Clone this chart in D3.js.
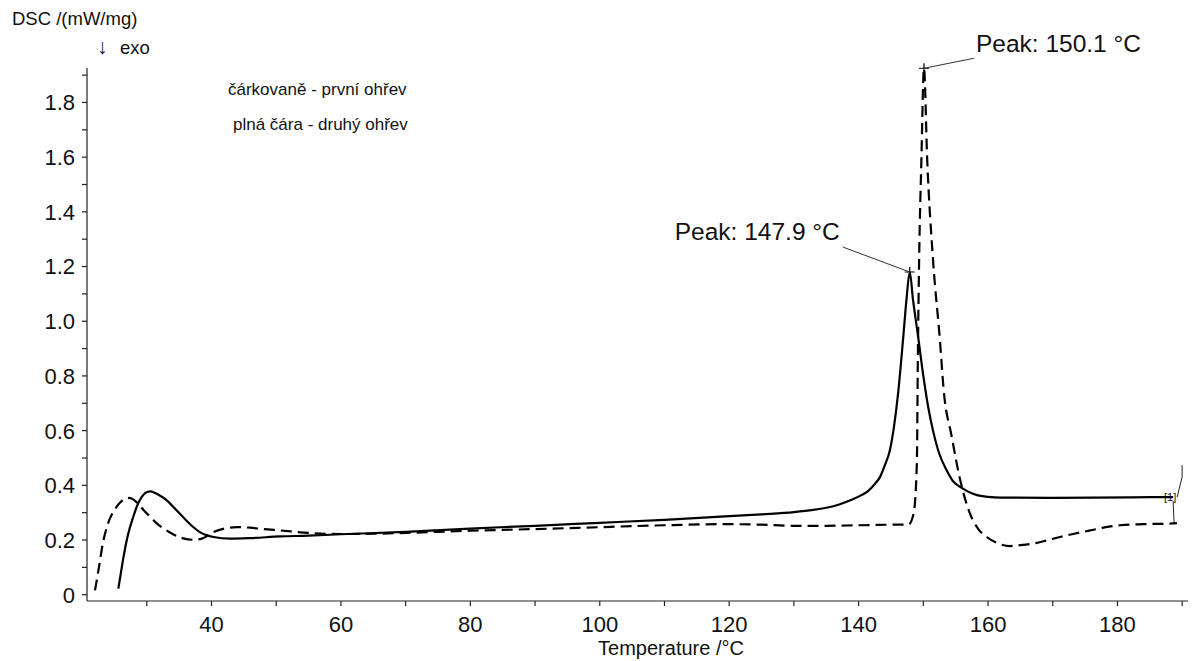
<!DOCTYPE html>
<html>
<head>
<meta charset="utf-8">
<script src="https://cdn.jsdelivr.net/npm/d3@7/dist/d3.min.js"></script>
<style>
  html, body { margin: 0; padding: 0; background: #fff; }
  svg { display: block; }
  text { font-family: "Liberation Sans", Arial, sans-serif; fill: #111; }
</style>
</head>
<body>
<svg id="chart" width="1192" height="661"></svg>
<script>
// First heating (dashed): temperature °C and DSC signal mW/mg
const firstHeatT = [22.0, 22.6, 23.2, 24.0, 25.0, 26.0, 26.9, 27.8, 28.4, 29.5, 30.5, 31.5, 32.6, 34.0, 35.5, 37.2, 38.5, 40.3, 42.0, 43.9, 46.0, 48.0, 50.6, 55, 60, 65, 70, 80, 90, 100, 110, 120, 125, 130, 135, 140, 145, 147.7, 148.5, 149.0, 149.15, 149.35, 149.7, 150.1, 150.6, 151.5, 152.6, 153.1, 154.4, 155.7, 157.2, 158.5, 159.8, 161.5, 163.4, 165, 167, 169, 171.1, 173.5, 175.8, 178, 180.4, 184, 188.1, 189.2];
const firstHeatDSC = [0.016, 0.10, 0.187, 0.26, 0.31, 0.34, 0.354, 0.35, 0.339, 0.31, 0.285, 0.262, 0.242, 0.222, 0.207, 0.201, 0.205, 0.229, 0.242, 0.247, 0.245, 0.24, 0.235, 0.226, 0.222, 0.223, 0.226, 0.234, 0.24, 0.247, 0.254, 0.258, 0.256, 0.252, 0.252, 0.254, 0.256, 0.257, 0.297, 0.48, 0.858, 1.224, 1.59, 1.925, 1.59, 1.224, 0.92, 0.76, 0.577, 0.419, 0.297, 0.24, 0.211, 0.188, 0.178, 0.181, 0.187, 0.198, 0.211, 0.224, 0.235, 0.246, 0.254, 0.258, 0.26, 0.262];

// Second heating (solid)
const secondHeatT = [25.6, 26.0, 26.4, 27.1, 27.9, 28.5, 29.2, 29.8, 30.5, 31.3, 32.2, 33.1, 34.3, 35.6, 36.9, 38.2, 39.3, 40.3, 42.9, 46, 50.6, 55, 60, 70, 80, 90, 100, 110, 120, 125, 130, 133, 135, 137, 139, 140.5, 141.5, 142.5, 143.3, 144, 144.85, 145.5, 146.1, 146.9, 147.4, 147.9, 148.4, 149.2, 150.0, 150.8, 151.5, 152.4, 153.6, 154.6, 155.7, 157, 158.3, 160, 161.9, 170, 176.3, 182, 188.6];
const secondHeatDSC = [0.022, 0.08, 0.138, 0.22, 0.284, 0.325, 0.357, 0.372, 0.378, 0.372, 0.36, 0.345, 0.316, 0.284, 0.253, 0.229, 0.217, 0.211, 0.205, 0.207, 0.213, 0.216, 0.221, 0.23, 0.242, 0.252, 0.263, 0.274, 0.287, 0.294, 0.302, 0.31, 0.318, 0.33, 0.348, 0.365, 0.38, 0.405, 0.43, 0.47, 0.53, 0.62, 0.736, 0.943, 1.08, 1.18, 1.08, 0.943, 0.80, 0.68, 0.6, 0.52, 0.455, 0.415, 0.394, 0.376, 0.364, 0.358, 0.355, 0.354, 0.355, 0.356, 0.357];

// Axis ticks
const xMajorTicks = [40, 60, 80, 100, 120, 140, 160, 180];
const xMinorTicks = [30, 50, 70, 90, 110, 130, 150, 170, 190];
const yMajorTicks = [0, 0.2, 0.4, 0.6, 0.8, 1.0, 1.2, 1.4, 1.6, 1.8];
const yTickLabels = ["0", "0.2", "0.4", "0.6", "0.8", "1.0", "1.2", "1.4", "1.6", "1.8"];
const yMinorTicks = [0.1, 0.3, 0.5, 0.7, 0.9, 1.1, 1.3, 1.5, 1.7, 1.9];

// Peak annotations
const peaks = [
  { label: "Peak: 147.9 °C", t: 147.9, v: 1.18 },
  { label: "Peak: 150.1 °C", t: 150.1, v: 1.925 }
];

const svg = d3.select("#chart");
const W = 1192, H = 661;
const m = { left: 87, right: 4, top: 68, bottom: 60 };

const x = d3.scaleLinear().domain([20.76, 190.9]).range([m.left, W - m.right]);
const y = d3.scaleLinear().domain([-0.023, 1.926]).range([H - m.bottom, m.top]);

svg.append("rect").attr("width", W).attr("height", H).attr("fill", "#fff");

const tickFs = 22;

// X axis
const xAxis = svg.append("g").attr("transform", `translate(0,${H - m.bottom})`);
xAxis.append("line").attr("x1", m.left).attr("x2", W - m.right).attr("stroke", "#222").attr("stroke-width", 1.2);
xAxis.selectAll("line.tick").data(xMajorTicks.concat(xMinorTicks)).join("line")
  .attr("x1", d => x(d)).attr("x2", d => x(d)).attr("y1", 0).attr("y2", 5)
  .attr("stroke", "#222").attr("stroke-width", 1.2);
xAxis.selectAll("text").data(xMajorTicks).join("text")
  .attr("x", d => x(d)).attr("y", 31).attr("text-anchor", "middle")
  .style("font-size", tickFs + "px").text(d => d);

// Y axis
const yAxis = svg.append("g").attr("transform", `translate(${m.left},0)`);
yAxis.append("line").attr("y1", m.top).attr("y2", H - m.bottom).attr("stroke", "#222").attr("stroke-width", 1.2);
yAxis.selectAll("line.tick").data(yMajorTicks.concat(yMinorTicks)).join("line")
  .attr("y1", d => y(d)).attr("y2", d => y(d)).attr("x1", -5).attr("x2", 0)
  .attr("stroke", "#222").attr("stroke-width", 1.2);
yAxis.selectAll("text").data(yMajorTicks).join("text")
  .attr("x", -12).attr("y", d => y(d)).attr("dy", "0.36em").attr("text-anchor", "end")
  .style("font-size", tickFs + "px").text((d, i) => yTickLabels[i]);

// Titles and notes
svg.append("text").attr("x", 12).attr("y", 25).style("font-size", "18.5px").text("DSC /(mW/mg)");
svg.append("text").attr("x", 97).attr("y", 54).style("font-size", "21px").text("↓");
svg.append("text").attr("x", 120).attr("y", 54).style("font-size", "18.5px").text("exo");
svg.append("text").attr("x", 228).attr("y", 95).style("font-size", "17px").text("čárkovaně - první ohřev");
svg.append("text").attr("x", 233).attr("y", 130).style("font-size", "17px").text("plná čára - druhý ohřev");
svg.append("text").attr("x", 671).attr("y", 655).attr("text-anchor", "middle").style("font-size", "20px").text("Temperature /°C");

// Curves
const line = d3.line().x(d => x(d[0])).y(d => y(d[1])).curve(d3.curveMonotoneX);
const first = d3.zip(firstHeatT, firstHeatDSC);
const second = d3.zip(secondHeatT, secondHeatDSC);

svg.append("path").attr("d", line(first)).attr("fill", "none")
  .attr("stroke", "#000").attr("stroke-width", 2.2).attr("stroke-dasharray", "11,6");
svg.append("path").attr("d", line(second)).attr("fill", "none")
  .attr("stroke", "#000").attr("stroke-width", 2.2);

// Peak markers with leader lines to their labels
const leader = [
  { dx: -67, dy: -25, tx: -235, ty: -32 },
  { dx: 50, dy: -10, tx: 52, ty: -16 }
];
peaks.forEach((p, i) => {
  const px = x(p.t), py = y(p.v), L = leader[i];
  svg.append("path").attr("d", `M${px - 5},${py}H${px + 5}M${px},${py - 5}V${py + 5}`)
    .attr("stroke", "#000").attr("stroke-width", 1.2);
  svg.append("line").attr("x1", px).attr("y1", py).attr("x2", px + L.dx).attr("y2", py + L.dy)
    .attr("stroke", "#333").attr("stroke-width", 1);
  svg.append("text").attr("x", px + L.tx).attr("y", py + L.ty)
    .style("font-size", "24.5px").text(p.label);
});

// Segment end markers
const sEnd = second[second.length - 1];
const fEnd = first[first.length - 1];
const sx = x(sEnd[0]), sy = y(sEnd[1]);
svg.append("text").attr("x", sx - 3).attr("y", sy + 4).attr("text-anchor", "middle")
  .style("font-size", "11px").text("[1]");
svg.append("path").attr("d", `M${sx + 4},${sy}L${sx + 9},${sy - 20}V${sy - 32}`)
  .attr("fill", "none").attr("stroke", "#222").attr("stroke-width", 1);
svg.append("path").attr("d", `M${sx},${sy + 4}L${sx + 1},${y(fEnd[1])}`)
  .attr("fill", "none").attr("stroke", "#222").attr("stroke-width", 1);
</script>
</body>
</html>
